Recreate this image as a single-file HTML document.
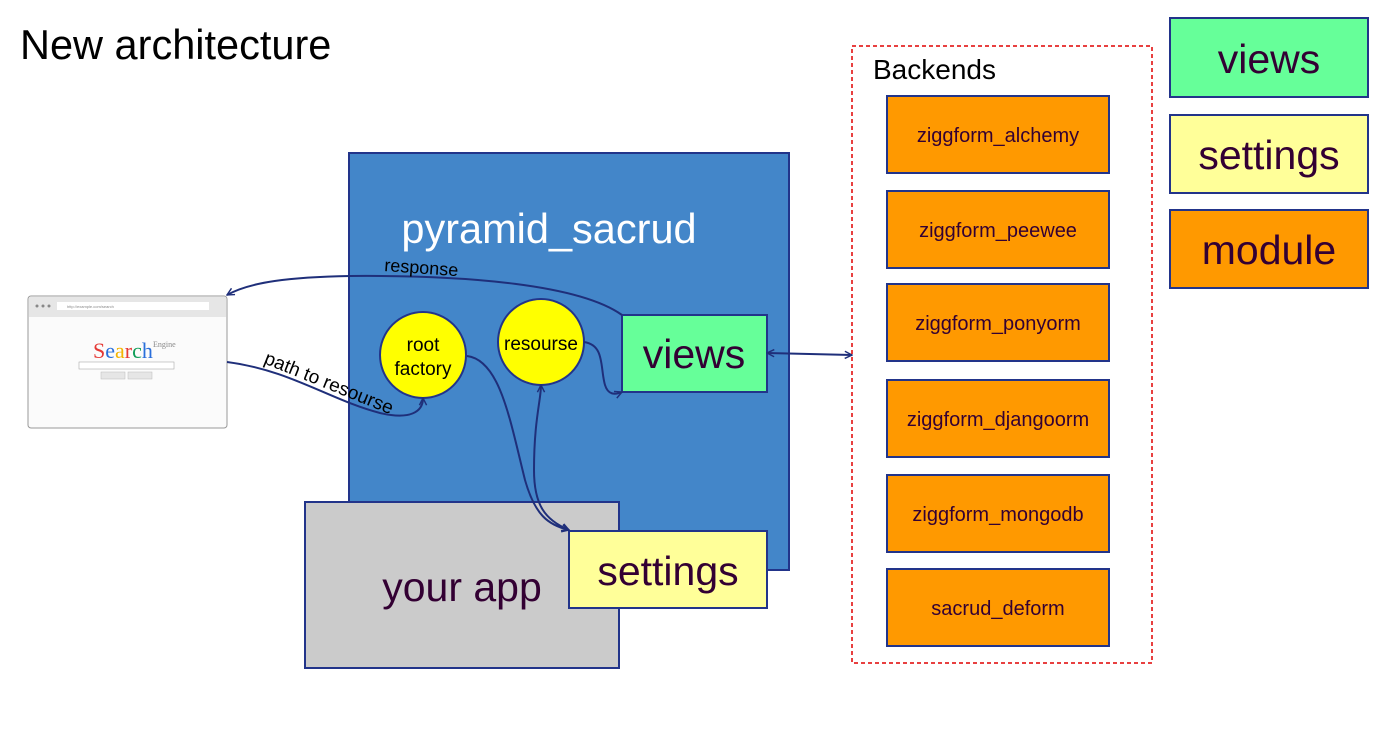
<!DOCTYPE html>
<html><head><meta charset="utf-8"><style>
body{margin:0;background:#fff}
svg{display:block}
text{font-family:"Liberation Sans",sans-serif}
</style></head><body>
<svg width="1377" height="752" viewBox="0 0 1377 752" xmlns="http://www.w3.org/2000/svg">
<defs>
<marker id="a" viewBox="0 0 10 10" refX="9" refY="5" markerWidth="9" markerHeight="9" orient="auto-start-reverse" markerUnits="userSpaceOnUse"><path d="M1,1 L9,5 L1,9" fill="none" stroke="#1f2f7a" stroke-width="1.6"/></marker>
</defs>
<text x="20" y="59" font-size="41.5" fill="#000">New architecture</text>

<rect x="349" y="153" width="440" height="417" fill="#4386c9" stroke="#22348a" stroke-width="2"/>
<text x="549" y="243" font-size="41.5" fill="#fff" text-anchor="middle">pyramid_sacrud</text>
<rect x="305" y="502" width="314" height="166" fill="#cbcbcb" stroke="#22348a" stroke-width="2"/>
<text x="462" y="601" font-size="41" fill="#330033" text-anchor="middle">your app</text>
<rect x="569" y="531" width="198" height="77" fill="#ffff99" stroke="#22348a" stroke-width="2"/>
<text x="668" y="585" font-size="41" fill="#330033" text-anchor="middle">settings</text>
<rect x="622" y="315" width="145" height="77" fill="#66ff99" stroke="#22348a" stroke-width="2"/>
<text x="694" y="368" font-size="41" fill="#330033" text-anchor="middle">views</text>

<circle cx="423" cy="355" r="43" fill="#ffff00" stroke="#22348a" stroke-width="2"/>
<text x="423" y="351" font-size="19" text-anchor="middle">root</text>
<text x="423" y="375" font-size="19" text-anchor="middle">factory</text>
<circle cx="541" cy="342" r="43" fill="#ffff00" stroke="#22348a" stroke-width="2"/>
<text x="541" y="350" font-size="19" text-anchor="middle">resourse</text>

<!-- browser -->
<rect x="28" y="296" width="199" height="132" rx="3" fill="#fbfbfb" stroke="#999" stroke-width="1"/>
<rect x="29" y="297" width="197" height="20" fill="#e6e6e6"/>
<circle cx="37" cy="306" r="1.5" fill="#888"/><circle cx="43" cy="306" r="1.5" fill="#888"/><circle cx="49" cy="306" r="1.5" fill="#888"/>
<rect x="57" y="302" width="152" height="8" fill="#fff"/>
<text x="67" y="308" font-size="4" fill="#888">http://example.com/search</text>
<text x="93" y="358" font-size="22" style="font-family:'Liberation Serif',serif"><tspan fill="#e53935">S</tspan><tspan fill="#2a6fdb">e</tspan><tspan fill="#f4b400">a</tspan><tspan fill="#e53935">r</tspan><tspan fill="#0f9d58">c</tspan><tspan fill="#2a6fdb">h</tspan></text>
<text x="153" y="347" font-size="8" fill="#888" style="font-family:'Liberation Serif',serif">Engine</text>
<rect x="79" y="362" width="95" height="7" fill="#fff" stroke="#aaa" stroke-width="0.6"/>
<rect x="101" y="372" width="24" height="7" fill="#e6e6e6" stroke="#bbb" stroke-width="0.5"/>
<rect x="128" y="372" width="24" height="7" fill="#e6e6e6" stroke="#bbb" stroke-width="0.5"/>

<!-- connectors -->
<g fill="none" stroke="#1f2f7a" stroke-width="2">
<path d="M622,315 C580,285 470,275 350,276 C290,277 250,282 227,295" marker-end="url(#a)"/>
<path d="M227,362 C290,370 330,400 380,413 C410,420 423,412 423,398" marker-end="url(#a)"/>
<path d="M467,356 C500,360 510,420 525,480 C535,515 548,525 569,530" marker-end="url(#a)"/>
<path d="M569,530 C545,520 534,505 534,470 C534,420 541,400 541,385" marker-start="url(#a)" marker-end="url(#a)"/>
<path d="M584,342 C605,345 600,368 605,385 C608,395 615,395 622,392" marker-end="url(#a)"/>
<path d="M767,353 L852,355" marker-start="url(#a)" marker-end="url(#a)"/>
</g>
<text x="384" y="271" font-size="18" transform="rotate(4 384 271)">response</text>
<text x="263" y="363" font-size="19" transform="rotate(22 263 363)">path to resourse</text>

<!-- backends -->
<rect x="852" y="46" width="300" height="617" fill="none" stroke="#e00000" stroke-width="1.5" stroke-dasharray="4,3"/>
<text x="873" y="79" font-size="28">Backends</text>
<g stroke="#22348a" stroke-width="2" fill="#ff9900">
<rect x="887" y="96" width="222" height="77"/>
<rect x="887" y="191" width="222" height="77"/>
<rect x="887" y="284" width="222" height="77"/>
<rect x="887" y="380" width="222" height="77"/>
<rect x="887" y="475" width="222" height="77"/>
<rect x="887" y="569" width="222" height="77"/>
</g>
<g font-size="20" fill="#330033" text-anchor="middle">
<text x="998" y="142">ziggform_alchemy</text>
<text x="998" y="237">ziggform_peewee</text>
<text x="998" y="330">ziggform_ponyorm</text>
<text x="998" y="426">ziggform_djangoorm</text>
<text x="998" y="521">ziggform_mongodb</text>
<text x="998" y="615">sacrud_deform</text>
</g>

<!-- legend -->
<rect x="1170" y="18" width="198" height="79" fill="#66ff99" stroke="#22348a" stroke-width="2"/>
<text x="1269" y="73" font-size="41" fill="#330033" text-anchor="middle">views</text>
<rect x="1170" y="115" width="198" height="78" fill="#ffff99" stroke="#22348a" stroke-width="2"/>
<text x="1269" y="169" font-size="41" fill="#330033" text-anchor="middle">settings</text>
<rect x="1170" y="210" width="198" height="78" fill="#ff9900" stroke="#22348a" stroke-width="2"/>
<text x="1269" y="264" font-size="41" fill="#330033" text-anchor="middle">module</text>
</svg>
</body></html>
